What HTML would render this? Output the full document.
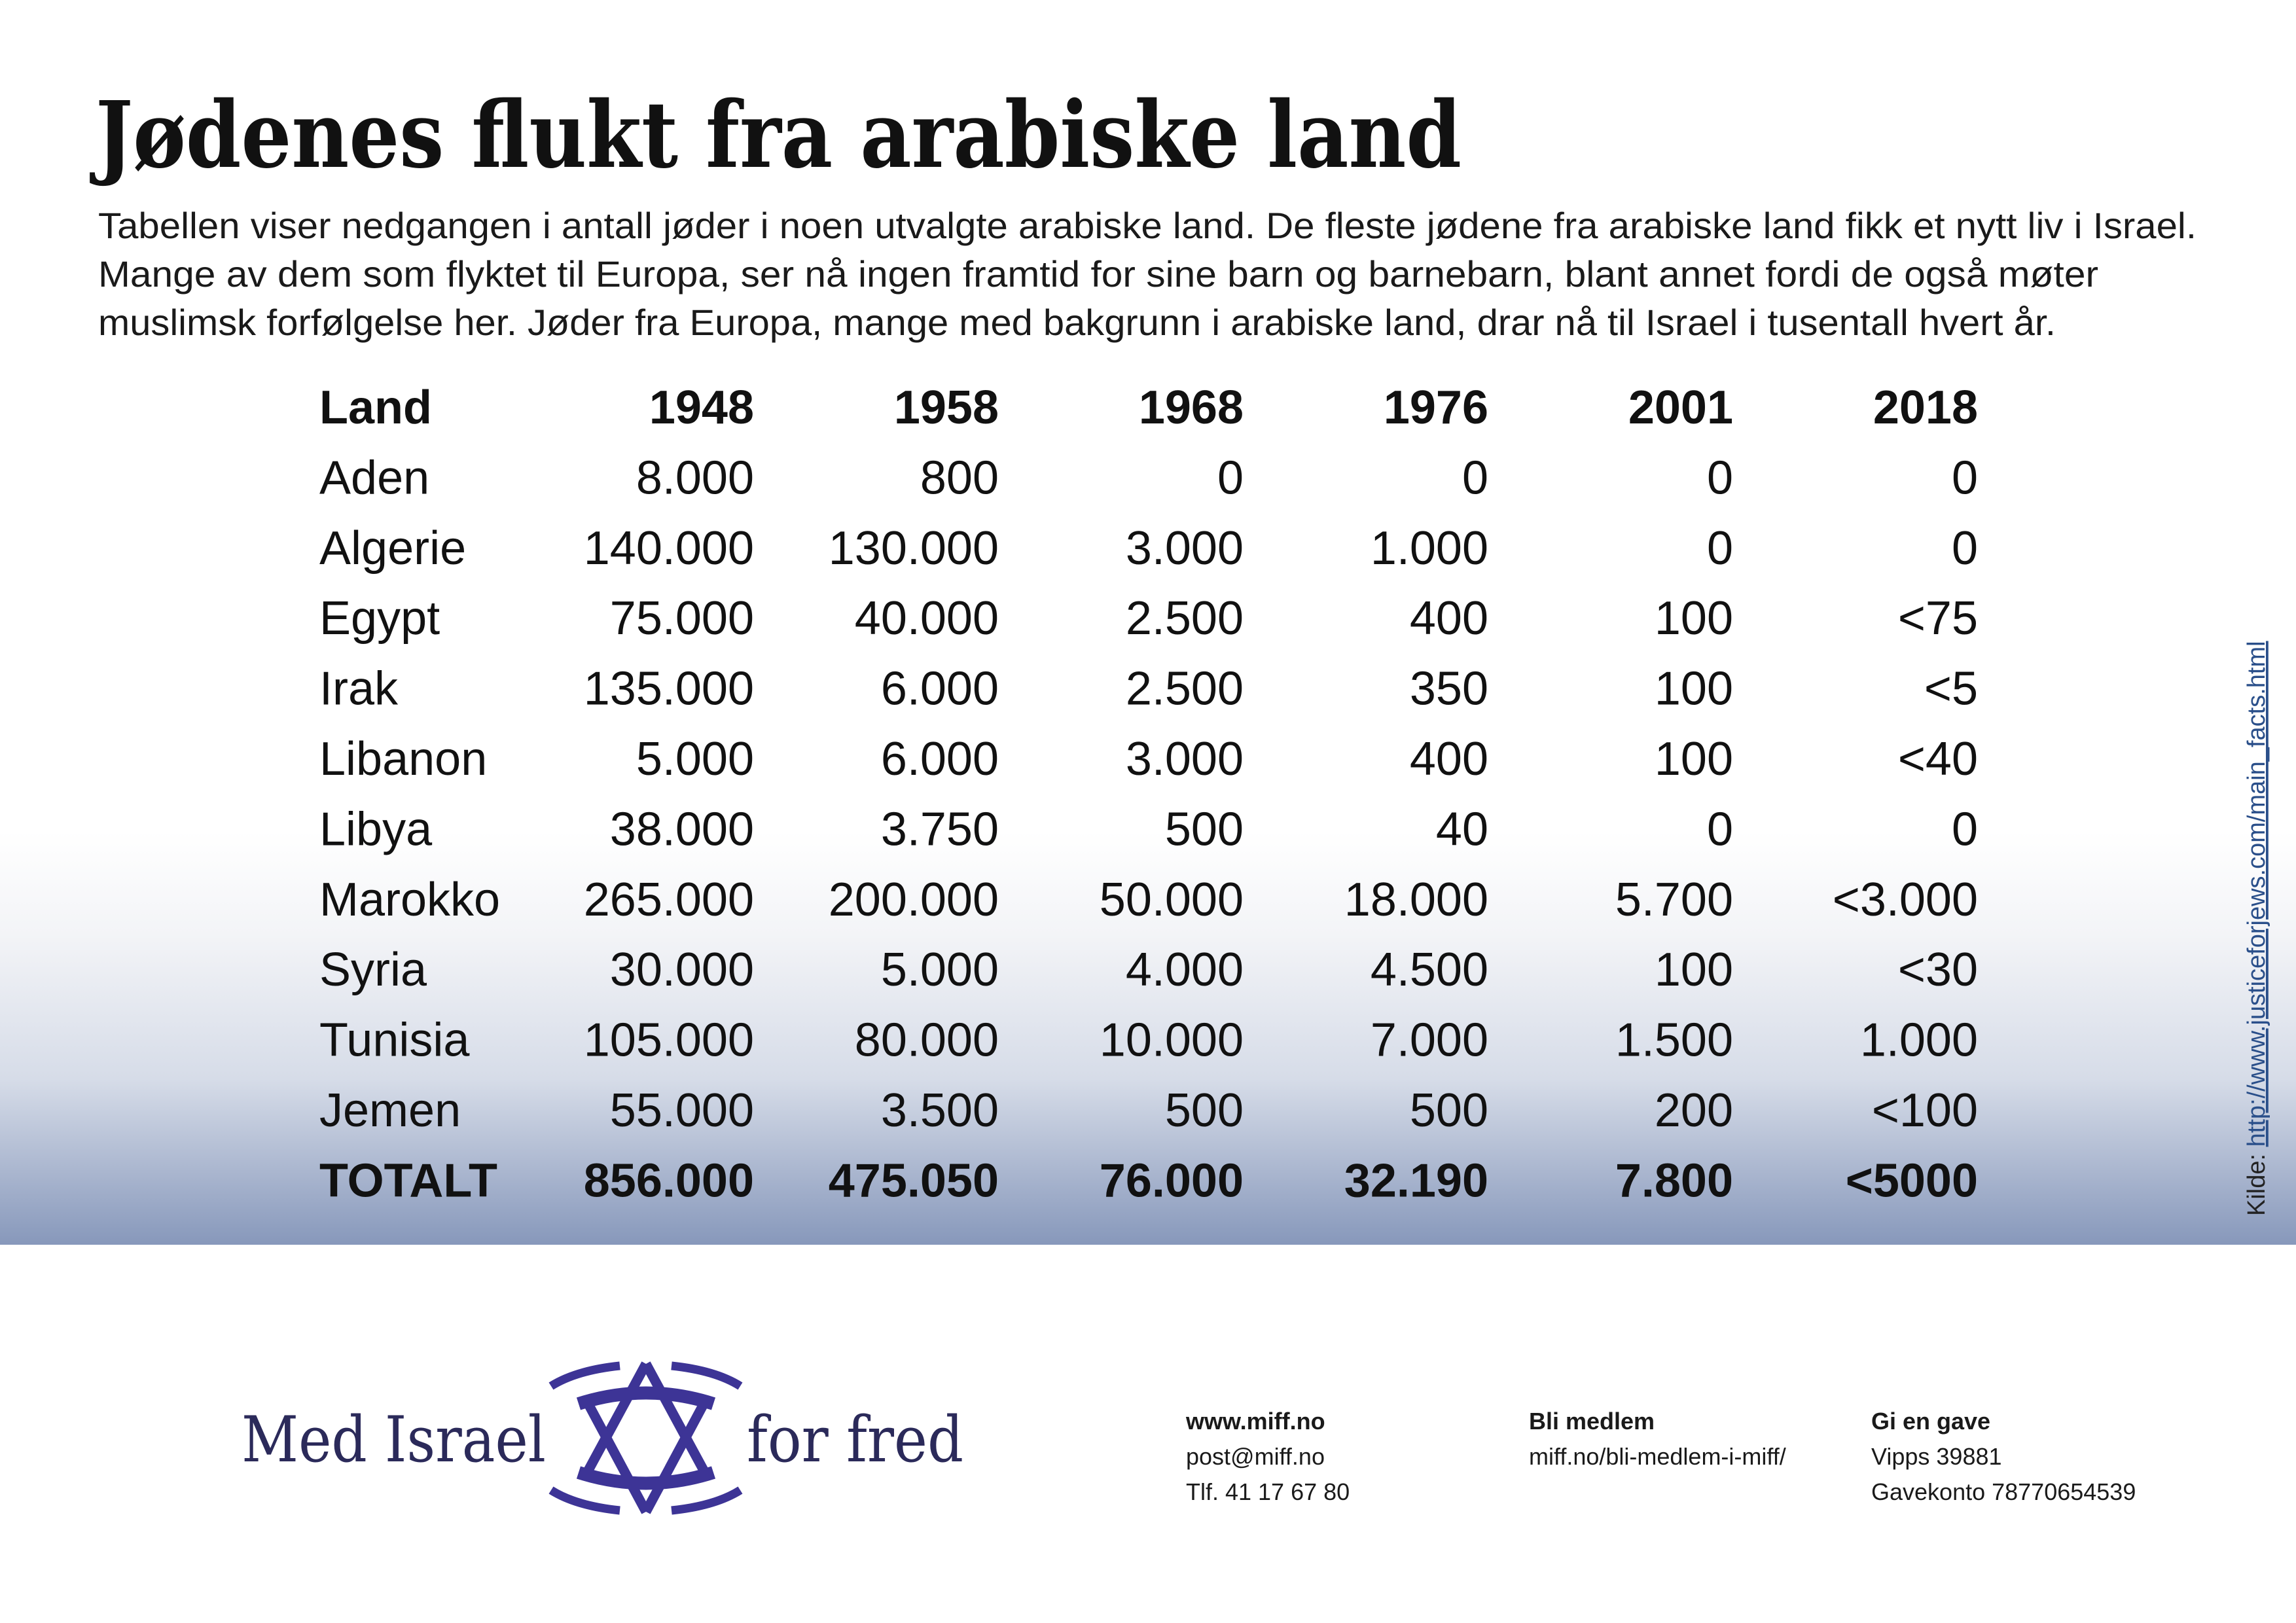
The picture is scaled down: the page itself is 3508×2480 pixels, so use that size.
<!DOCTYPE html>
<html><head><meta charset="utf-8">
<style>
html,body{margin:0;padding:0;background:#fff;}
svg{display:block;}
text{font-family:"Liberation Sans",sans-serif;}
text.serif{font-family:"DejaVu Serif","Liberation Serif",serif;}
</style></head>
<body>
<svg id="page" width="3508" height="2480" viewBox="0 0 3508 2480" xmlns="http://www.w3.org/2000/svg">
<defs>
<linearGradient id="bg" x1="0" y1="0" x2="0" y2="1">
<stop offset="0" stop-color="#ffffff"/>
<stop offset="0.25" stop-color="#f3f4f7"/>
<stop offset="0.6" stop-color="#d6dce8"/>
<stop offset="1" stop-color="#8798bb"/>
</linearGradient>
</defs>
<rect x="0" y="1270" width="3508" height="632" fill="url(#bg)"/>

<text class="serif" x="146" y="255" font-weight="bold" font-size="140" fill="#111" textLength="2087" lengthAdjust="spacingAndGlyphs">Jødenes flukt fra arabiske land</text>

<g font-size="56" fill="#1a1a1a">
<text x="150" y="364" textLength="3206" lengthAdjust="spacingAndGlyphs">Tabellen viser nedgangen i antall jøder i noen utvalgte arabiske land. De fleste jødene fra arabiske land fikk et nytt liv i Israel.</text>
<text x="150" y="438" textLength="3056" lengthAdjust="spacingAndGlyphs">Mange av dem som flyktet til Europa, ser nå ingen framtid for sine barn og barnebarn, blant annet fordi de også møter</text>
<text x="150" y="512" textLength="2991" lengthAdjust="spacingAndGlyphs">muslimsk forfølgelse her. Jøder fra Europa, mange med bakgrunn i arabiske land, drar nå til Israel i tusentall hvert år.</text>
</g>

<g id="table"></g>

<text transform="translate(3460,1858) rotate(-90)" font-size="38" fill="#222">Kilde: <tspan fill="#2a4f8a" text-decoration="underline">http://www.justiceforjews.com/main_facts.html</tspan></text>

<g>
<text class="serif" x="369" y="2233" font-size="96" fill="#2b2a5a" textLength="465" lengthAdjust="spacingAndGlyphs">Med Israel</text>
<text class="serif" x="1141" y="2233" font-size="96" fill="#2b2a5a" textLength="331" lengthAdjust="spacingAndGlyphs">for fred</text>
<g fill="none" stroke="#3d3496">
<path d="M987 2084 L896 2252 M987 2084 L1078 2252" stroke-width="15"/>
<path d="M987 2310 L896 2140 M987 2310 L1078 2140" stroke-width="15"/>
<path d="M884 2145 Q987 2112 1090 2145" stroke-width="20"/>
<path d="M884 2250 Q987 2283 1090 2250" stroke-width="20"/>
<path d="M842 2118 Q880 2094 947 2087" stroke-width="13"/>
<path d="M1131 2118 Q1093 2094 1026 2087" stroke-width="13"/>
<path d="M842 2277 Q880 2301 947 2308" stroke-width="13"/>
<path d="M1131 2277 Q1093 2301 1026 2308" stroke-width="13"/>
</g>
</g>

<g font-size="36" fill="#1a1a1a">
<text x="1812" y="2184" font-weight="bold">www.miff.no</text>
<text x="1812" y="2238">post@miff.no</text>
<text x="1812" y="2292">Tlf. 41 17 67 80</text>
<text x="2336" y="2184" font-weight="bold">Bli medlem</text>
<text x="2336" y="2238">miff.no/bli-medlem-i-miff/</text>
<text x="2859" y="2184" font-weight="bold">Gi en gave</text>
<text x="2859" y="2238">Vipps 39881</text>
<text x="2859" y="2292">Gavekonto 78770654539</text>
</g>
</svg>
<script>
const years = ["1948","1958","1968","1976","2001","2018"];
const countries = ["Aden","Algerie","Egypt","Irak","Libanon","Libya","Marokko","Syria","Tunisia","Jemen"];
const v1948 = ["8.000","140.000","75.000","135.000","5.000","38.000","265.000","30.000","105.000","55.000"];
const v1958 = ["800","130.000","40.000","6.000","6.000","3.750","200.000","5.000","80.000","3.500"];
const v1968 = ["0","3.000","2.500","2.500","3.000","500","50.000","4.000","10.000","500"];
const v1976 = ["0","1.000","400","350","400","40","18.000","4.500","7.000","500"];
const v2001 = ["0","0","100","100","100","0","5.700","100","1.500","200"];
const v2018 = ["0","0","<75","<5","<40","0","<3.000","<30","1.000","<100"];
const totals = ["856.000","475.050","76.000","32.190","7.800","<5000"];

const NS = "http://www.w3.org/2000/svg";
const table = document.getElementById('table');
const cols = [v1948, v1958, v1968, v1976, v2001, v2018];
const colRight = i => 1152 + i * 374;
const rowY = r => 647 + r * 107.4;
function txt(x, y, s, anchor, bold) {
  const t = document.createElementNS(NS, 'text');
  t.setAttribute('x', x); t.setAttribute('y', y);
  t.setAttribute('font-size', '72');
  t.setAttribute('fill', '#111');
  if (anchor) t.setAttribute('text-anchor', anchor);
  if (bold) t.setAttribute('font-weight', 'bold');
  t.textContent = s;
  table.appendChild(t);
  return t;
}
let h = txt(488, rowY(0), 'Land', null, true);


years.forEach((y, i) => {
  const e = txt(colRight(i), rowY(0), y, 'end', true);
  
  
});
countries.forEach((c, r) => {
  const e = txt(488, rowY(r + 1), c, null, false);
  
  
  cols.forEach((col, i) => {
    const v = txt(colRight(i), rowY(r + 1), col[r], 'end', false);
    
    
  });
});
const tl = txt(488, rowY(11), 'TOTALT', null, true);


totals.forEach((t, i) => {
  const e = txt(colRight(i), rowY(11), t, 'end', true);
  
  
});
</script>
</body></html>
